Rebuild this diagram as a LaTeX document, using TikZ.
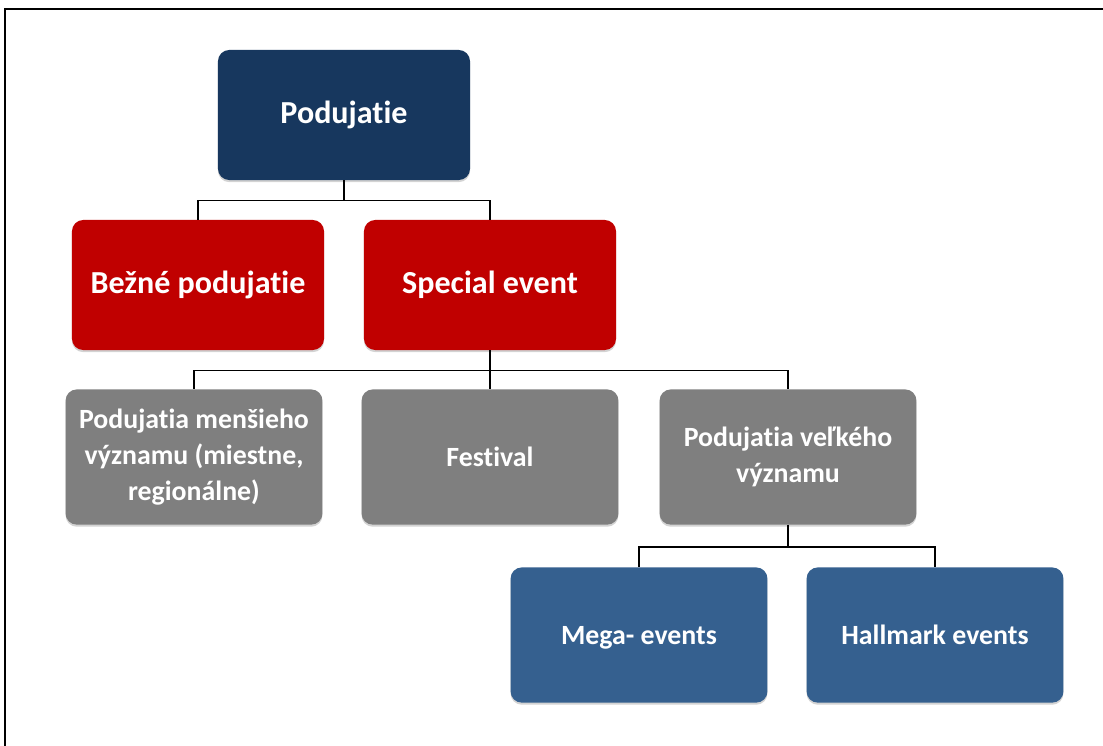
\documentclass[tikz,border=0pt]{standalone}
\usepackage{fontspec}
\setmainfont{Carlito}[Ligatures=NoCommon]
\usetikzlibrary{positioning, shadows}
\definecolor{navy}{HTML}{17375E}
\definecolor{redbox}{HTML}{C00000}
\definecolor{greybox}{HTML}{7F7F7F}
\definecolor{bluebox}{HTML}{35608F}
\tikzset{
  box/.style={rounded corners=8pt, text=white, align=center,
    font=\bfseries\fontsize{22.8}{27}\selectfont,
    minimum width=6.3cm, minimum height=3.25cm, inner sep=2pt,
    drop shadow={opacity=0.35, shadow xshift=0pt, shadow yshift=-1.5pt}},
  smallbox/.style={box, font=\bfseries\fontsize{19.8}{25.5}\selectfont,
    minimum width=6.42cm, minimum height=3.38cm},
  link/.style={draw=black, line width=0.9pt}
}
\begin{document}
\begin{tikzpicture}[x=0.025cm, y=-0.025cm]
  \useasboundingbox (0,0) rectangle (1103,745);
  % frame
  \draw[line width=1.6pt] (5,760) |- (1120,9);
  % top level
  \node[box, fill=navy] (podujatie) at (344,115) {Podujatie};
  % second level
  \node[box, fill=redbox] (bezne) at (198,285) {Bežné podujatie};
  \node[box, fill=redbox] (special) at (490,285) {Special event};
  % third level
  \node[smallbox, fill=greybox] (mensie) at (194,457)
    {Podujatia menšieho\\významu (miestne,\\regionálne)};
  \node[smallbox, fill=greybox] (festival) at (490,457) {Festival};
  \node[smallbox, fill=greybox] (velke) at (788,457)
    {Podujatia veľkého\\významu};
  % fourth level
  \node[smallbox, fill=bluebox, text depth=0pt] (mega) at (639,635) {Mega- events};
  \node[smallbox, fill=bluebox, text depth=0pt] (hallmark) at (935,635) {Hallmark events};
  % connectors
  \draw[link] (podujatie.south) -- ++(0,20) -| (bezne.north);
  \draw[link] (podujatie.south) -- ++(0,20) -| (special.north);
  \draw[link] (special.south) -- ++(0,20) -| (mensie.north);
  \draw[link] (special.south) -- (festival.north);
  \draw[link] (special.south) -- ++(0,20) -| (velke.north);
  \draw[link] (velke.south) -- ++(0,22) -| (mega.north);
  \draw[link] (velke.south) -- ++(0,22) -| (hallmark.north);
\end{tikzpicture}
\end{document}
